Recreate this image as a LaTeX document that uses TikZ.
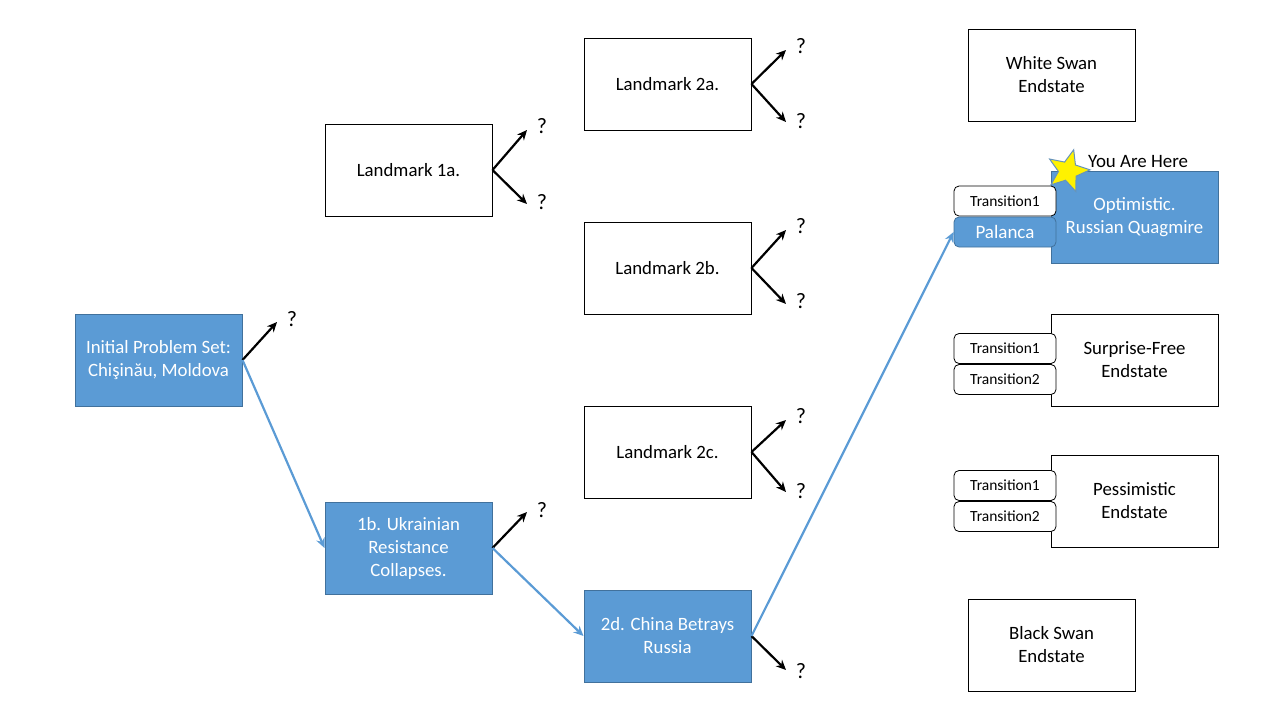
\documentclass[tikz,border=0pt]{standalone}
\usepackage{fontspec}
\setmainfont{Carlito}
\usetikzlibrary{shapes.geometric,arrows.meta}
\definecolor{obl}{HTML}{5B9BD5}
\definecolor{obd}{HTML}{41719C}
\tikzset{
  wbox/.style={draw=black,line width=1pt,fill=white,minimum width=167pt,minimum height=92pt,inner sep=0pt,align=center,font=\fontsize{18.8}{23}\selectfont},
  bbox/.style={wbox,draw=obd,fill=obl,text=white},
  tbox/.style={draw=black,line width=0.8pt,rounded corners=5pt,fill=white,minimum width=102pt,minimum height=30pt,inner sep=0pt,font=\fontsize{15.5}{17}\selectfont},
  tbboxb/.style={tbox,draw=obd,fill=obl,text=white,font=\fontsize{19}{21}\selectfont},
  blk/.style={draw=black,line width=2.2pt,-{Stealth[length=10pt,width=9pt]}},
  blu/.style={draw=obl,line width=2.2pt,-{Stealth[length=10pt,width=9pt]}},
  qm/.style={inner sep=0pt,font=\fontsize{22}{24}\selectfont},
}
\begin{document}
\begin{tikzpicture}[x=1pt,y=-1pt]
\useasboundingbox (0,0) rectangle (1280,720);
% boxes
\node[bbox] (init) at (158.5,360) {Initial Problem Set:\\Chişinău, Moldova};
\node[wbox] (l1a) at (408.5,170) {Landmark 1a.};
\node[bbox] (l1b) at (408.5,548) {1b. Ukrainian\\Resistance\\Collapses.};
\node[wbox] (l2a) at (667.5,84) {Landmark 2a.};
\node[wbox] (l2b) at (667.5,268) {Landmark 2b.};
\node[wbox] (l2c) at (667.5,452) {Landmark 2c.};
\node[bbox] (l2d) at (667.5,636) {2d. China Betrays\\Russia};
\node[wbox] (ws) at (1051.5,75) {White Swan\\Endstate};
\node[bbox] (opt) at (1134.5,217) {Optimistic.\\Russian Quagmire};
\node[wbox] (sf) at (1134.5,360) {Surprise-Free\\Endstate};
\node[wbox] (pe) at (1134.5,501) {Pessimistic\\Endstate};
\node[wbox] (bs) at (1051.5,645) {Black Swan\\Endstate};
% transitions
\node[tbox] (ot1) at (1005,201) {Transition1};
\node[tbboxb] (pal) at (1005,232) {Palanca};
\node[tbox] (st1) at (1005,348.5) {Transition1};
\node[tbox] (st2) at (1005,379.5) {Transition2};
\node[tbox] (pt1) at (1005,485.5) {Transition1};
\node[tbox] (pt2) at (1005,516.5) {Transition2};
% star
\node[star,star points=5,star point ratio=2.3,minimum size=44pt,inner sep=0pt,fill=yellow,draw=obl!70!gray,line width=1pt,rotate=-15] (star) at (1068,171) {};
\node[inner sep=0pt,anchor=west,font=\fontsize{18.9}{21}\selectfont] (yah) at (1088,162) {You Are Here};
% question marks
\node[qm] (q0) at (292,319) {?};
\node[qm] (q1a) at (542,126) {?};
\node[qm] (q1b) at (542,202) {?};
\node[qm] (q1c) at (542,510) {?};
\node[qm] (q2a) at (801,46) {?};
\node[qm] (q2b) at (801,121) {?};
\node[qm] (q2c) at (801,226) {?};
\node[qm] (q2d) at (801,301) {?};
\node[qm] (q2e) at (801,416) {?};
\node[qm] (q2f) at (801,491) {?};
\node[qm] (q2g) at (801,671) {?};
% arrow end coordinates
\coordinate (e0) at (277,322);
\coordinate (e1a) at (527,130);
\coordinate (e1b) at (527,204);
\coordinate (e1c) at (527,512);
\coordinate (e2a) at (786,50);
\coordinate (e2b) at (786,122);
\coordinate (e2c) at (786,230);
\coordinate (e2d) at (786,304);
\coordinate (e2e) at (786,420);
\coordinate (e2f) at (786,492);
\coordinate (e2g) at (786,670);
% black arrows
\draw[blk] (init.east) -- (e0);
\draw[blk] (l1a.east) -- (e1a);
\draw[blk] (l1a.east) -- (e1b);
\draw[blk] (l1b.east) -- (e1c);
\draw[blk] (l2a.east) -- (e2a);
\draw[blk] (l2a.east) -- (e2b);
\draw[blk] (l2b.east) -- (e2c);
\draw[blk] (l2b.east) -- (e2d);
\draw[blk] (l2c.east) -- (e2e);
\draw[blk] (l2c.east) -- (e2f);
\draw[blk] (l2d.east) -- (e2g);
% blue arrows
\draw[blu] (init.east) -- (l1b.west);
\draw[blu] (l1b.east) -- (l2d.west);
\draw[blu] (l2d.east) -- (pal.west);
\end{tikzpicture}
\end{document}
